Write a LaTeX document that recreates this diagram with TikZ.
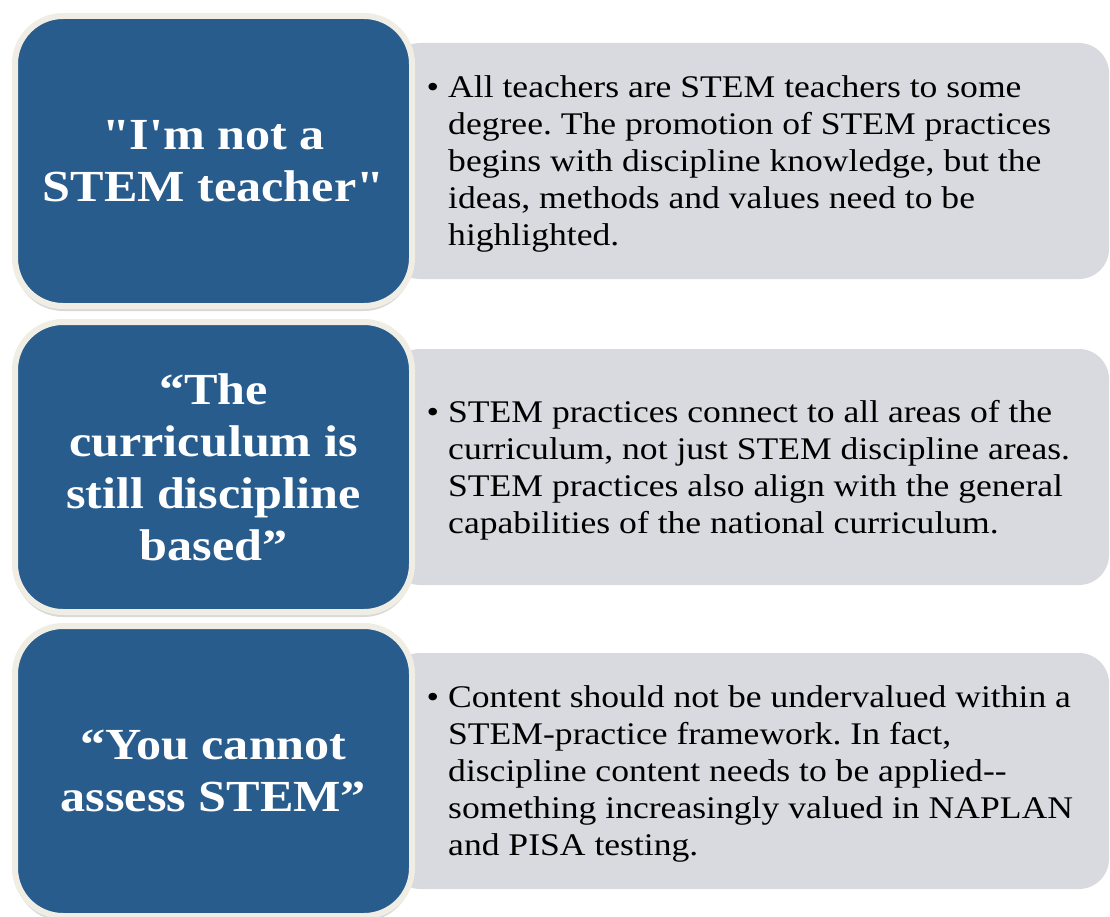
\documentclass[tikz,border=0pt]{standalone}
\usepackage{fontspec}
\setmainfont{Liberation Serif}[Ligatures=TeXOff,FakeStretch=1.13]
\usepackage{tikz}
\usetikzlibrary{shadows}
\definecolor{quoteblue}{RGB}{40,92,141}
\definecolor{rimcream}{RGB}{239,237,228}
\definecolor{notegray}{RGB}{217,218,223}
\frenchspacing

\begin{document}
\begin{tikzpicture}[x=1pt,y=-1pt,
    note/.style={fill=notegray, rounded corners=30pt, minimum width=719pt, minimum height=236pt, inner sep=0pt},
    quote/.style={fill=quoteblue, draw=rimcream, line width=6pt, rounded corners=48pt,
      minimum width=397pt, minimum height=290pt, inner sep=0pt, text=white, align=center,
      font={\fontsize{44.4}{52}\selectfont\bfseries},
      drop shadow={opacity=0.3, shadow xshift=0pt, shadow yshift=-5pt}},
    bullets/.style={anchor=west, inner sep=0pt, align=left, font={\fontsize{31.5}{37}\selectfont}}]
   \useasboundingbox (0,0) rectangle (1110,917);
   % grey boxes first, the blue ones sit on top
   \draw (749.5,161) node[note] (n1) {};
   \draw (749.5,467) node[note] (n2) {};
   \draw (749.5,771) node[note] (n3) {};
   \draw (213.5,161) node[quote] (q1) {"I'm not a\\STEM teacher"};
   \draw (213.5,467) node[quote] (q2) {“The\\curriculum is\\still discipline\\based”};
   \draw (213.5,771) node[quote] (q3) {“You cannot\\assess STEM”};
   \draw (448,164) node[bullets] (t1) {\llap{•\hspace{9pt}}All teachers are STEM teachers to some\\degree. The promotion of STEM practices\\begins with discipline knowledge, but the\\ideas, methods and values need to be\\highlighted.};
   \draw (448,470) node[bullets] (t2) {\llap{•\hspace{9pt}}STEM practices connect to all areas of the\\curriculum, not just STEM discipline areas.\\STEM practices also align with the general\\capabilities of the national curriculum.};
   \draw (448,774) node[bullets] (t3) {\llap{•\hspace{9pt}}Content should not be undervalued within a\\STEM-practice framework. In fact,\\discipline content needs to be applied--\\something increasingly valued in NAPLAN\\and PISA testing.};
\end{tikzpicture}
\end{document}
